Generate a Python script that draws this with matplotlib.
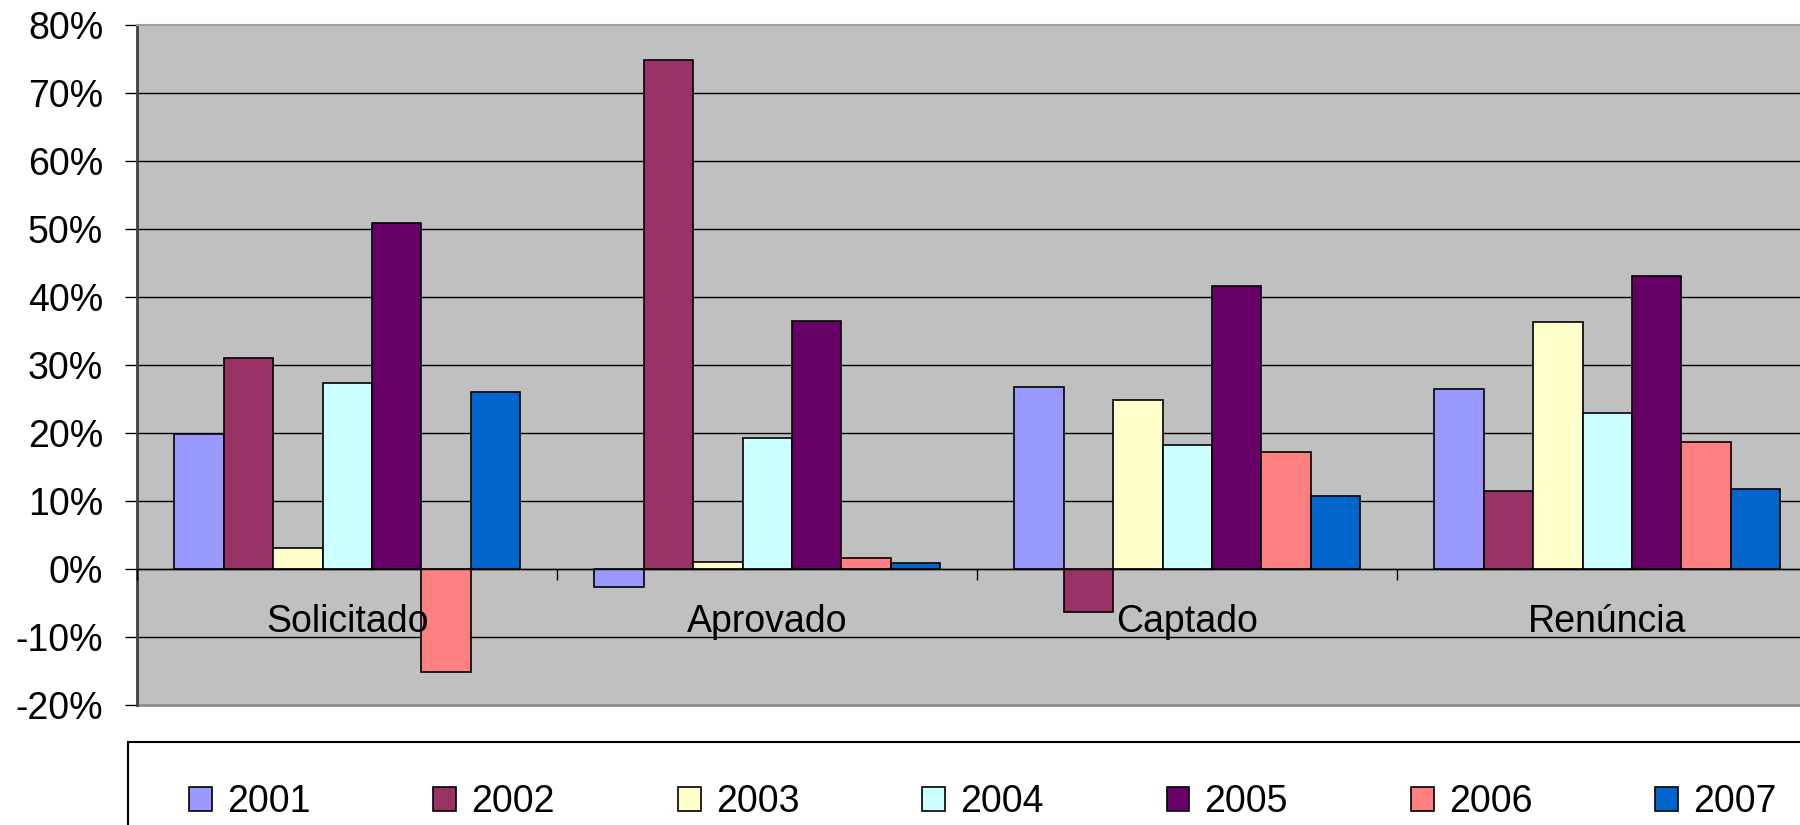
import matplotlib.pyplot as plt
import matplotlib.patches as mpatches
import numpy as np

plt.rcParams['font.family'] = ['Liberation Sans', 'DejaVu Sans']

# dados (variação % por ano)
categorias = ["Solicitado", "Aprovado", "Captado", "Renúncia"]
anos = ["2001", "2002", "2003", "2004", "2005", "2006", "2007"]
v2001 = [19.8, -2.6, 26.8, 26.4]
v2002 = [31.0, 74.8, -6.3, 11.5]
v2003 = [3.1, 1.1, 24.9, 36.3]
v2004 = [27.3, 19.3, 18.3, 22.9]
v2005 = [50.9, 36.5, 41.6, 43.1]
v2006 = [-15.2, 1.6, 17.2, 18.7]
v2007 = [26.0, 0.9, 10.8, 11.7]
yticks = list(range(-20, 81, 10))

series = [v2001, v2002, v2003, v2004, v2005, v2006, v2007]
cores = ["#9999FF", "#993366", "#FFFFCC", "#CCFFFF", "#660066", "#FF8080", "#0066CC"]

W, H = 1800, 825
fs = 27
fig = plt.figure(figsize=(18, 8.25), dpi=100)
ax = fig.add_axes([137.3 / W, 1 - 705 / H, 1680 / W, 680 / H])
ax.set_facecolor("#C0C0C0")

x = np.arange(len(categorias))
larg = 1 / 8.5
for i, (vals, cor, ano) in enumerate(zip(series, cores, anos)):
    ax.bar(x + (i - 3) * larg, vals, larg, color=cor, edgecolor="black",
           linewidth=1.2, label=ano, zorder=3)

ax.set_xlim(-0.5, 3.5)
ax.set_ylim(-20, 80)
ax.set_yticks(yticks)
ax.set_yticklabels([f"{v}%" for v in yticks])
ax.grid(axis="y", color="black", linewidth=1.0)
ax.set_axisbelow(True)
gl = ax.get_ygridlines()
gl[0].set_visible(False)
gl[-1].set_visible(False)

# eixo x cruzando no zero
ax.spines["bottom"].set_position(("data", 0))
ax.spines["bottom"].set_color("black")
ax.spines["bottom"].set_linewidth(1.0)
ax.spines["bottom"].set_zorder(4)
ax.spines["top"].set_color("#A0A0A0")
ax.spines["top"].set_linewidth(1.5)
ax.spines["right"].set_visible(False)
ax.spines["left"].set_color("#404040")
ax.spines["left"].set_linewidth(2.0)
ax.axhline(-20, color="#8C8C8C", linewidth=2.0, clip_on=False)

ax.set_xticks(x)
ax.set_xticklabels(categorias)
ax.set_xticks(np.arange(-0.5, 3.6, 1.0), minor=True)
ax.tick_params(axis="x", which="major", length=0, pad=45, labelsize=fs)
ax.tick_params(axis="x", which="minor", length=7.7, width=1.0, direction="out")
ax.tick_params(axis="y", length=8.6, width=1.0, pad=16, labelsize=fs)
for t in ax.get_xticklabels():
    t.set_verticalalignment("baseline")
ax.xaxis.set_zorder(4)  # rótulos por cima das barras

# moldura da legenda
fig.patches.append(mpatches.Rectangle((128.3 / W, -0.1), 1.0, 0.1 + 1 - 741.7 / H,
                                      fill=False, edgecolor="black", linewidth=1.5,
                                      transform=fig.transFigure, clip_on=False))
fig.legend(loc="center left", bbox_to_anchor=(189 / W, 1 - 802 / H), ncol=7,
           frameon=False, fontsize=fs, handlelength=0.61, handleheight=0.59,
           handletextpad=0.4, columnspacing=3.28, borderpad=0, borderaxespad=0)

fig.savefig("out.png", dpi=100)
